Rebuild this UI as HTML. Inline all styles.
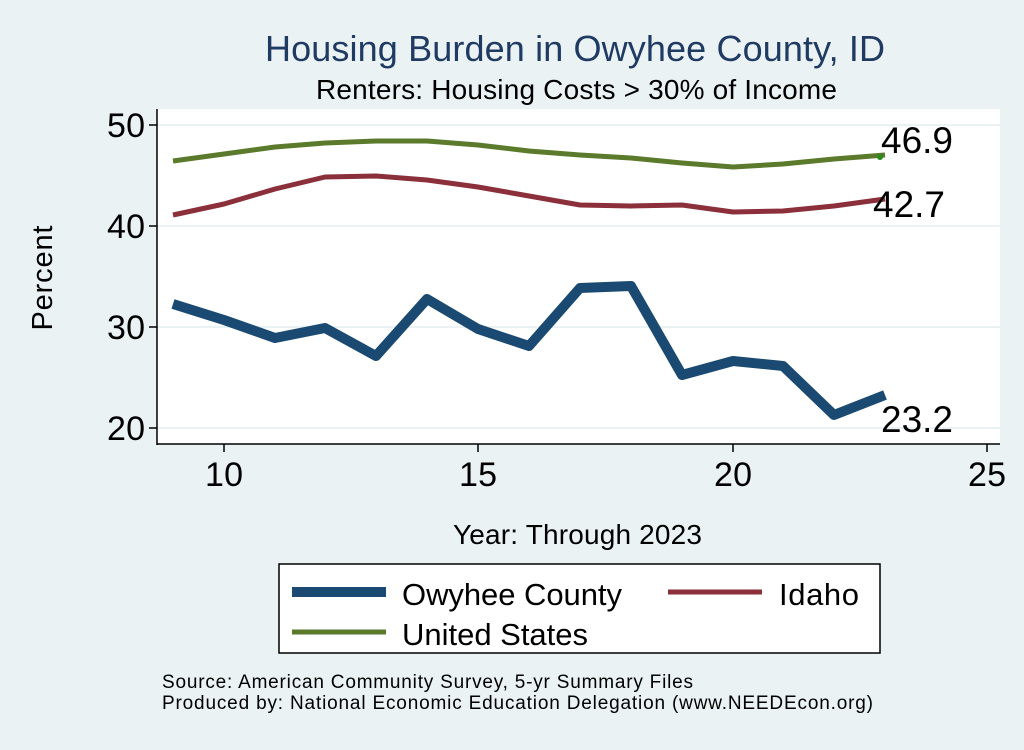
<!DOCTYPE html>
<html><head><style>
body{margin:0;background:#eaf2f3;font-family:"Liberation Sans",sans-serif;}
</style></head><body>
<svg width="1024" height="745" xmlns="http://www.w3.org/2000/svg" font-family="Liberation Sans, sans-serif">
<rect width="1024" height="745" fill="#eaf2f3"/>
<rect x="157" y="109" width="843" height="335" fill="#fff"/>
<g stroke="#eaf2f3" stroke-width="2">
<line x1="157" x2="1000" y1="125" y2="125"/><line x1="157" x2="1000" y1="226" y2="226"/>
<line x1="157" x2="1000" y1="327" y2="327"/><line x1="157" x2="1000" y1="428" y2="428"/>
</g>
<g stroke="#000" stroke-width="1.5">
<line x1="157" y1="109" x2="157" y2="445"/><line x1="157" y1="444" x2="1000" y2="444"/>
<line x1="149" x2="157" y1="125" y2="125"/><line x1="149" x2="157" y1="226" y2="226"/>
<line x1="149" x2="157" y1="327" y2="327"/><line x1="149" x2="157" y1="428" y2="428"/>
<line x1="224" x2="224" y1="444" y2="452"/><line x1="478" x2="478" y1="444" y2="452"/>
<line x1="733" x2="733" y1="444" y2="452"/><line x1="987" x2="987" y1="444" y2="452"/>
</g>
<g font-size="34" lengthAdjust="spacingAndGlyphs"><text x="107" y="137" textLength="38">50</text><text x="107" y="238" textLength="38">40</text><text x="107" y="339" textLength="38">30</text><text x="107" y="440" textLength="38">20</text></g>
<g font-size="34"><text x="205" y="486" textLength="38">10</text><text x="459" y="486" textLength="38">15</text><text x="714" y="486" textLength="38">20</text><text x="968" y="486" textLength="38">25</text></g>
<text x="52" y="278" font-size="29" text-anchor="middle" transform="rotate(-90 52 278)" textLength="105">Percent</text>
<text x="453" y="544" font-size="28" textLength="249">Year: Through 2023</text>
<text x="265" y="61" font-size="36" fill="#1f3a63" textLength="620">Housing Burden in Owyhee County, ID</text>
<text x="316" y="99" font-size="28" textLength="521">Renters: Housing Costs &gt; 30% of Income</text>
<g fill="none" stroke-linejoin="round">
<polyline stroke="#5b7a2c" stroke-width="5" points="173,161 224,154 275,147 325,143 376,141 427,141 478,145 529,151 580,155 631,158 682,163 733,167 783,164 834,159 885,155"/>
<polyline stroke="#8b2f3a" stroke-width="5" points="173,215 224,204 275,189 325,177 376,176 427,180 478,187 529,196 580,205 631,206 682,205 733,212 783,211 834,206 885,199"/>
<polyline stroke="#1a4a72" stroke-width="10" points="173,304 224,320 275,338 325,328 376,356 427,299 478,329 529,346 580,288 631,286 682,375 733,361 783,366 834,415 885,395"/>
</g>
<circle cx="880" cy="157" r="3" fill="#2a8a1a"/>
<g font-size="37"><text x="881" y="153" textLength="72">46.9</text><text x="873" y="217" textLength="72">42.7</text><text x="881" y="432" textLength="72">23.2</text></g>
<rect x="279" y="564" width="601" height="89" fill="#fff" stroke="#000" stroke-width="1.5"/>
<line x1="292" x2="386" y1="592" y2="592" stroke="#1a4a72" stroke-width="10"/>
<line x1="668" x2="762" y1="592" y2="592" stroke="#8b2f3a" stroke-width="5"/>
<line x1="292" x2="386" y1="632" y2="632" stroke="#5b7a2c" stroke-width="5"/>
<g font-size="31"><text x="402" y="605" textLength="220">Owyhee County</text><text x="779" y="605" textLength="80">Idaho</text><text x="402" y="645" textLength="186">United States</text></g>
<g font-size="19"><text x="162" y="688" textLength="531">Source: American Community Survey, 5-yr Summary Files</text><text x="162" y="709" textLength="711">Produced by: National Economic Education Delegation (www.NEEDEcon.org)</text></g>
</svg>
</body></html>
